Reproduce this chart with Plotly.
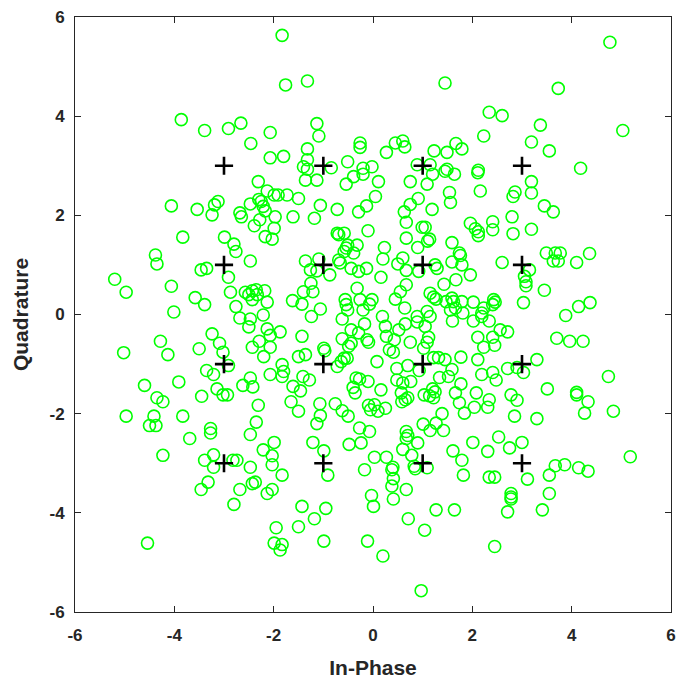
import plotly.graph_objects as go

# Received symbols (In-Phase, Quadrature), grouped by region of the plot
rx_top = [(-3.86,3.93),(-3.39,3.71),(-2.91,3.75),(-2.66,3.86),(-2.46,3.45),(-2.07,3.67),(-2.07,3.16),
    (-1.83,5.63),(-1.76,4.63),(-1.32,4.71),(1.45,4.67),(-1.13,3.85),(-1.09,3.60),(-1.80,3.19),(-1.32,3.34),
    (-1.32,3.12),(-1.40,2.98),(-0.84,2.96),(-0.51,3.08),(-0.26,3.46),(-0.26,3.37),(-0.20,2.95),(-0.02,2.98),
    (0.27,3.27),(0.45,3.46),(0.60,3.50),(0.64,3.38),(0.89,3.02),(1.15,3.02),(1.23,3.30),(1.49,3.27),
    (1.67,3.45),(1.79,3.34),(1.49,2.93),
    (4.77,5.49),(3.73,4.56),(2.34,4.08),(2.60,4.01),(3.37,3.82),(2.23,3.60),(3.19,3.48),(5.03,3.71),
    (3.55,3.30),(2.12,2.91),(4.18,2.95)]

rx_upper_left = [(-2.31,2.68),(-2.13,2.49),(-1.99,2.41),(-2.30,2.32),(-2.25,2.28),(-2.47,2.23),(-2.21,2.18),
    (-2.17,2.09),(-4.06,2.19),(-3.54,2.12),(-3.19,2.21),(-3.12,2.28),(-3.24,2.01),(-2.68,2.05),(-2.65,1.97),
    (-2.28,1.91),(-2.39,1.79),(-1.97,1.97),(-1.99,1.74),(-2.17,1.57),(-2.03,1.52),(-3.83,1.56),(-2.99,1.56),
    (-2.80,1.42),(-2.76,1.27),(-4.38,1.20),(-4.35,1.02),(-2.47,1.08),(-3.46,0.90),(-3.35,0.93),(-2.91,0.75),
    (-5.20,0.71),(-4.97,0.45),(-4.06,0.57),(-2.87,0.45),(-2.57,0.45),(-2.43,0.48),(-2.35,0.50),(-2.50,0.40),
    (-2.33,0.40),(-2.18,0.48),(-2.43,0.30),(-2.13,0.25),(-3.58,0.34),(-3.39,0.20),(-4.01,0.05),(-2.76,0.16),
    (-2.68,-0.07),(-2.21,-0.01),(-2.47,-0.09)]

rx_lower_left = [(-2.50,-0.25),(-2.13,-0.29),(-2.07,-0.42),(-3.24,-0.39),(-4.28,-0.54),(-5.02,-0.77),
    (-4.13,-0.81),(-3.50,-0.69),(-3.09,-0.58),(-3.02,-0.76),(-2.29,-0.54),(-2.43,-0.66),(-2.07,-0.66),
    (-2.20,-0.85),(-2.91,-1.03),(-3.35,-1.13),(-3.21,-1.21),(-2.07,-1.21),(-2.47,-1.28),(-2.62,-1.43),
    (-2.42,-1.46),(-4.60,-1.43),(-3.91,-1.36),(-3.14,-1.50),(-3.02,-1.62),(-2.93,-1.62),(-3.45,-1.65),
    (-4.35,-1.68),(-4.23,-1.76),(-2.31,-1.83),(-4.97,-2.05),(-4.41,-2.05),(-3.83,-2.05),(-4.50,-2.24),
    (-4.37,-2.24),(-2.35,-2.17),(-3.27,-2.30),(-3.27,-2.39),(-3.69,-2.50),(-2.47,-2.42),(-1.99,-2.58),
    (-2.21,-2.73),(-4.23,-2.84),(-3.21,-2.83),(-3.39,-2.94),(-2.82,-2.94),(-2.74,-2.94),(-3.21,-3.08),
    (-2.47,-3.08),(-2.03,-3.03)]

rx_bottom = [(-3.32,-3.38),(-3.46,-3.53),(-2.68,-3.53),(-2.37,-3.38),(-2.43,-3.41),(-2.13,-3.61),(-2.03,-3.53),
    (-2.80,-3.83),(-4.54,-4.61),(-1.95,-4.30),(-1.99,-4.61),
    (-1.83,-3.24),(-0.91,-3.24),(-0.17,-3.13),(0.38,-3.13),(0.41,-3.31),(0.38,-3.46),(0.41,-3.72),(0.67,-3.53),
    (-0.03,-3.65),(0.01,-3.87),(0.83,-3.06),(0.85,-3.11),(1.82,-3.24),(-1.43,-3.87),(-0.95,-3.91),
    (-1.18,-4.12),(-1.50,-4.28),(-1.83,-4.64),(-1.87,-4.75),(-0.99,-4.57),(-0.11,-4.57),(0.20,-4.87),
    (0.71,-4.12),(1.04,-4.35),(1.27,-3.94),(1.64,-3.94),(0.97,-5.57),
    (2.34,-3.28),(2.45,-3.28),(3.11,-3.32),(3.55,-3.24),(3.67,-3.05),(3.86,-3.03),(4.14,-3.09),(4.33,-3.16),
    (2.78,-3.61),(2.78,-3.68),(2.78,-3.72),(3.55,-3.61),(2.71,-3.98),(3.41,-3.94),(2.45,-4.68)]

rx_lower_right = [(2.02,-0.13),(2.19,-0.04),(2.34,-0.13),(3.88,-0.02),(2.56,-0.31),(2.71,-0.35),(2.11,-0.46),
    (2.41,-0.46),(2.23,-0.66),(2.45,-0.62),(3.70,-0.48),(3.96,-0.54),(4.23,-0.54),(2.11,-0.91),(3.30,-0.91),
    (2.71,-1.09),(2.90,-1.07),(3.03,-1.17),(2.19,-1.21),(2.41,-1.17),(2.48,-1.32),(4.74,-1.25),(3.51,-1.50),
    (4.10,-1.57),(4.10,-1.62),(4.33,-1.76),(4.26,-1.99),(4.84,-1.95),(2.08,-1.58),(2.34,-1.72),(2.04,-1.87),
    (2.31,-1.87),(2.78,-1.62),(2.90,-1.73),(2.85,-2.05),(3.30,-2.10),(2.01,-2.58),(2.53,-2.47),(2.31,-2.76),
    (2.75,-2.69),(3.00,-2.58),(5.18,-2.87)]

rx_upper_right = [(2.11,2.86),(3.19,2.68),(2.16,2.49),(2.86,2.47),(2.82,2.38),(3.19,2.45),(3.45,2.19),
    (3.63,2.07),(2.80,1.97),(1.96,1.84),(2.41,1.87),(2.41,1.71),(2.06,1.73),(2.12,1.67),(2.12,1.59),
    (2.82,1.63),(3.19,1.72),(3.49,1.24),(3.67,1.24),(3.77,1.24),(3.63,1.08),(3.73,1.08),(4.36,1.23),
    (4.10,1.05),(2.60,1.05),(3.15,0.90),(3.05,0.77),(3.08,0.66),(3.08,0.58),(3.45,0.49),(1.96,0.80),
    (3.03,0.24),(4.14,0.16),(4.37,0.24),(2.02,0.25),(2.23,0.13),(2.19,0.03),(2.43,0.30),(2.46,0.25),(2.41,0.20)]

rx_center_top = [(-1.32,2.93),(1.20,2.83),(1.45,2.89),(1.64,2.83),(-1.36,2.71),(-1.13,2.71),(-0.54,2.63),
    (-0.39,2.78),(-0.20,2.83),(0.11,2.68),(0.75,2.68),(1.09,2.63),(1.54,2.46),(1.56,2.26),(-1.91,2.41),
    (-1.73,2.41),(-1.50,2.34),(-1.06,2.20),(-0.72,2.12),(-1.18,1.94),(-1.61,1.97),(-0.29,2.07),(-0.13,2.19),
    (0.05,2.38),(0.63,2.07),(0.75,2.22),(0.91,2.34),(1.19,2.12),(0.67,1.86),(0.99,1.76),(1.05,1.76),
    (-0.72,1.64),(-0.69,1.61),(-0.58,1.64),(-0.10,1.69),(0.67,1.54),(1.14,1.52),(1.10,1.48),(1.59,1.45),
    (1.74,1.24),(1.76,1.19),(-0.51,1.40),(-0.54,1.34),(-0.58,1.27),(-0.32,1.40),(-0.39,1.24),(0.23,1.35),
    (0.20,1.12),(0.90,1.35),(-1.36,1.08),(-1.09,1.12),(-1.26,0.90),(-1.13,0.88),(-0.87,0.80),(-0.69,1.10),
    (-0.66,1.04),(-0.44,0.93),(-0.29,0.87),(-0.13,0.93),(0.16,0.75),(0.50,1.02),(0.60,1.14),(0.67,0.89),
    (0.92,0.87),(1.25,1.00),(1.29,0.93),(1.59,1.06),(1.79,1.00),(1.67,0.70),(1.43,0.61),(-1.25,0.63),
    (-1.40,0.46),(-1.21,0.46),(-0.32,0.53),(0.67,0.60),(0.55,0.46),(0.45,0.31),(0.64,0.13),(1.15,0.43),
    (1.22,0.35),(1.27,0.31),(1.47,0.26),(1.59,0.33),(1.62,0.26),(1.79,0.26),(1.66,0.13),(1.56,0.09),
    (-1.62,0.28),(-1.43,0.21),(-1.06,0.11),(-0.56,0.30),(-0.54,0.20),(-0.51,0.09),(-0.26,0.30),(-0.07,0.21),
    (-0.02,0.30),(-0.20,0.09),(0.19,-0.04),(1.09,0.06),(1.15,-0.04),(0.89,-0.04),(-1.24,-0.04),(-0.62,-0.09),
    (1.81,0.03)]

rx_center_bottom = [(-0.17,-0.19),(0.25,-0.24),(0.65,-0.19),(0.52,-0.31),(0.89,-0.15),(1.05,-0.24),(1.60,-0.13),
    (-1.87,-0.35),(-1.43,-0.44),(-0.44,-0.31),(-0.29,-0.37),(-0.62,-0.49),(-0.44,-0.58),(-0.49,-0.64),
    (-0.12,-0.51),(-0.09,-0.56),(0.27,-0.44),(0.43,-0.51),(0.33,-0.71),(0.41,-0.76),(0.75,-0.56),(1.02,-0.68),
    (1.09,-0.56),(1.12,-0.46),(-1.50,-0.85),(-1.36,-0.81),(-0.99,-0.68),(-0.97,-0.73),(-0.72,-1.05),
    (-0.64,-0.95),(-0.58,-0.88),(-0.52,-0.88),(0.08,-0.95),(-1.83,-1.01),(-1.80,-1.15),(-1.83,-1.25),
    (-1.41,-1.25),(-1.28,-1.32),(-1.61,-1.45),(-1.46,-1.54),(-1.65,-1.76),(-1.50,-1.95),(-1.07,-1.80),
    (-1.06,-2.04),(-1.13,-2.20),(-0.76,-1.80),(-0.62,-1.94),(-0.50,-2.05),(-0.34,-1.28),(-0.27,-1.30),
    (-0.40,-1.47),(-0.36,-1.58),(-0.10,-1.35),(0.16,-1.52),(-0.09,-1.83),(-0.05,-1.92),(0.03,-1.82),
    (0.10,-1.95),(0.25,-1.89),(0.48,-1.09),(0.70,-1.03),(0.48,-1.32),(0.60,-1.38),(0.76,-1.35),(0.57,-1.58),
    (0.70,-1.68),(0.58,-1.76),(0.65,-1.72),(0.93,-1.13),(1.22,-0.87),(1.32,-0.87),(1.45,-0.91),(1.77,-0.86),
    (1.59,-1.11),(1.52,-1.25),(1.34,-1.27),(1.20,-1.50),(1.25,-1.56),(1.14,-1.64),(1.03,-1.62),(1.22,-1.68),
    (1.66,-1.58),(1.77,-1.40),(1.74,-1.78),(1.84,-1.99),(1.39,-2.00),(1.27,-2.19),(1.42,-2.34),(1.01,-2.21),
    (1.15,-2.34),(0.67,-2.36),(0.70,-2.44),(0.67,-2.50),(0.60,-2.72),(0.90,-2.59),(0.78,-2.84),(1.09,-3.09),
    (1.61,-2.75),(1.79,-2.94),(-2.03,-2.85),(-1.21,-2.58),(-0.99,-2.75),(-0.48,-2.62),(-0.24,-2.59),
    (-0.27,-2.29),(-0.07,-2.36),(0.03,-2.88),(0.27,-2.88),(0.40,-3.08)]

# Reference 16-QAM constellation points
ref_i = [-3, -3, -3, -3, -1, -1, -1, -1, 1, 1, 1, 1, 3, 3, 3, 3]
ref_q = [-3, -1, 1, 3, -3, -1, 1, 3, -3, -1, 1, 3, -3, -1, 1, 3]

tick_vals = [-6, -4, -2, 0, 2, 4, 6]
tick_text = ["-6", "-4", "-2", "0", "2", "4", "6"]

groups = [rx_top, rx_upper_left, rx_lower_left, rx_bottom, rx_lower_right,
          rx_upper_right, rx_center_top, rx_center_bottom]
rx_i = [p[0] for g in groups for p in g]
rx_q = [p[1] for g in groups for p in g]

FONT = "Liberation Sans, Arial, sans-serif"
INK = "#262626"

fig = go.Figure()
fig.add_trace(go.Scatter(
    x=rx_i, y=rx_q, mode="markers",
    marker=dict(symbol="circle-open", size=12, color="#00ff00", line=dict(width=1.6, color="#00ff00")),
    showlegend=False, hoverinfo="skip"))
fig.add_trace(go.Scatter(
    x=ref_i, y=ref_q, mode="markers",
    marker=dict(symbol="cross-thin", size=13, color="black", line=dict(width=2.6, color="black")),
    showlegend=False, hoverinfo="skip"))

axis_common = dict(
    range=[-6, 6], tickvals=tick_vals, ticktext=tick_text, automargin=False,
    showgrid=False, zeroline=False, showline=True, linecolor=INK, linewidth=1,
    mirror="ticks", ticks="inside", ticklen=6, tickcolor=INK, tickwidth=1,
    tickfont=dict(family=FONT, size=17, color=INK, weight="bold"),
)

fig.update_layout(
    width=677, height=682,
    margin=dict(l=75, r=6, t=17, b=70, pad=0),
    paper_bgcolor="white", plot_bgcolor="white",
    xaxis=dict(**axis_common, ticklabelstandoff=8,
               title=dict(text="In-Phase", font=dict(family=FONT, size=21, color=INK, weight="bold"))),
    yaxis=dict(**axis_common, ticklabelstandoff=6,
               title=dict(text="Quadrature", font=dict(family=FONT, size=21, color=INK, weight="bold"))),
)

fig.write_html("out.html")
